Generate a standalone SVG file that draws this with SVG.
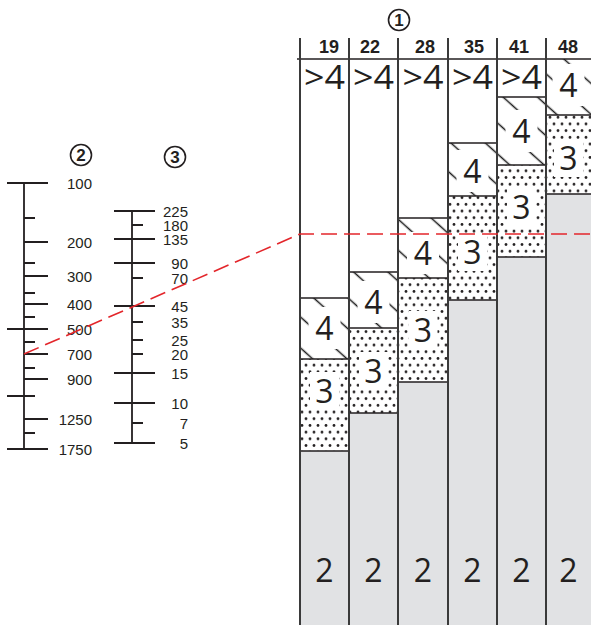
<svg xmlns="http://www.w3.org/2000/svg" width="591" height="625" viewBox="0 0 591 625">
<defs>
<style>
.ln{stroke:#231f20;stroke-width:1.5;fill:none}
.ax{stroke:#231f20;stroke-width:1.8;fill:none}
.col{stroke:#3a3a3a;stroke-width:2;fill:none}
.clr{fill:#fff;stroke:none}
.big{font-family:"Open Sans","DejaVu Sans",sans-serif;font-size:32px;fill:#231f20;text-anchor:middle}
.sc{font-family:"Liberation Sans",Arial,sans-serif;font-size:15px;fill:#231f20;text-anchor:end}
.hd{font-family:"Liberation Sans",Arial,sans-serif;font-size:18px;font-weight:bold;fill:#231f20;text-anchor:middle}
.cn{font-family:"Liberation Sans",Arial,sans-serif;font-size:17px;font-weight:bold;fill:#231f20;text-anchor:middle}
.circ{fill:none;stroke:#231f20;stroke-width:1.6}
.gray{fill:#e1e2e4}
.red{stroke:#e3262b;stroke-width:1.6;fill:none;stroke-dasharray:16 7}
</style>
<pattern id="hatch" patternUnits="userSpaceOnUse" width="23" height="23" patternTransform="rotate(42)">
<rect width="23" height="23" fill="#fff"/>
<line x1="0" y1="11.5" x2="23" y2="11.5" stroke="#1a1a1a" stroke-width="1.5"/>
</pattern>
<pattern id="dots" patternUnits="userSpaceOnUse" width="8" height="13.4">
<rect width="8" height="13.4" fill="#fff"/>
<circle cx="2" cy="3.35" r="1.4" fill="#231f20"/>
<circle cx="6" cy="10.05" r="1.4" fill="#231f20"/>
</pattern>
</defs>

<g id="scale2">
<circle class="circ" cx="81" cy="155" r="10.5"/>
<text class="cn" x="81" y="161">2</text>
<path class="ax" d="M24 183V449"/>
<path class="ax" d="M7 183H48M7 329H48M7 449H48M7 396H35M24 242H48M24 276H48M24 304H48M24 354H48M24 379H48M24 419H48M24 218H35M24 263H35M24 293H35M24 317H35M24 342H35M24 368H35M24 433H35"/>
<text class="sc" x="92" y="188.5">100</text>
<text class="sc" x="92" y="247.5">200</text>
<text class="sc" x="92" y="281.5">300</text>
<text class="sc" x="92" y="309.5">400</text>
<text class="sc" x="92" y="334.5">500</text>
<text class="sc" x="92" y="359.5">700</text>
<text class="sc" x="92" y="384.5">900</text>
<text class="sc" x="92" y="424.5">1250</text>
<text class="sc" x="92" y="454.5">1750</text>
</g>

<g id="scale3">
<circle class="circ" cx="175" cy="157" r="10.5"/>
<text class="cn" x="175" y="163">3</text>
<path class="ax" d="M132 211V443"/>
<path class="ax" d="M114 211H155M114 239H155M114 263H155M114 306H155M114 373H155M114 403H155M114 443H155M132 225H143M132 278H143M132 322H143M132 340H143M132 354H143M132 423H143"/>
<text class="sc" x="188" y="216.5">225</text>
<text class="sc" x="188" y="231">180</text>
<text class="sc" x="188" y="245">135</text>
<text class="sc" x="188" y="268.5">90</text>
<text class="sc" x="188" y="283.5">70</text>
<text class="sc" x="188" y="311.5">45</text>
<text class="sc" x="188" y="327.5">35</text>
<text class="sc" x="188" y="345.5">25</text>
<text class="sc" x="188" y="359.5">20</text>
<text class="sc" x="188" y="378.5">15</text>
<text class="sc" x="188" y="408.5">10</text>
<text class="sc" x="188" y="428.5">7</text>
<text class="sc" x="188" y="448.5">5</text>
</g>

<g id="col-19">
<rect x="300" y="59" width="49" height="239" fill="#fff"/>
<rect x="300" y="298" width="49" height="61" fill="url(#hatch)"/>
<rect x="300" y="359" width="49" height="92" fill="url(#dots)"/>
<rect class="gray" x="300" y="451" width="49" height="174"/>
<rect class="clr" x="308.5" y="307" width="32" height="42"/>
<rect class="clr" x="310" y="372" width="29" height="38"/>
<text class="big" x="324.5" y="88.5" textLength="41" lengthAdjust="spacingAndGlyphs">&gt;4</text>
<text class="big" x="324.5" y="339.5">4</text>
<text class="big" x="324.5" y="402.5">3</text>
<text class="big" x="324.5" y="582">2</text>
<path class="ln" d="M300 298H349M300 359H349M300 451H349"/>
</g>

<g id="col-22">
<rect x="349" y="59" width="49" height="213" fill="#fff"/>
<rect x="349" y="272" width="49" height="56" fill="url(#hatch)"/>
<rect x="349" y="328" width="49" height="85" fill="url(#dots)"/>
<rect class="gray" x="349" y="413" width="49" height="212"/>
<rect class="clr" x="357.5" y="281" width="32" height="42"/>
<rect class="clr" x="359" y="352" width="29" height="38"/>
<text class="big" x="373.5" y="88.5" textLength="41" lengthAdjust="spacingAndGlyphs">&gt;4</text>
<text class="big" x="373.5" y="313.5">4</text>
<text class="big" x="373.5" y="382.5">3</text>
<text class="big" x="373.5" y="582">2</text>
<path class="ln" d="M349 272H398M349 328H398M349 413H398"/>
</g>

<g id="col-28">
<rect x="398" y="59" width="50" height="159" fill="#fff"/>
<rect x="398" y="218" width="50" height="60" fill="url(#hatch)"/>
<rect x="398" y="278" width="50" height="104" fill="url(#dots)"/>
<rect class="gray" x="398" y="382" width="50" height="243"/>
<rect class="clr" x="407" y="232" width="32" height="42"/>
<rect class="clr" x="408.5" y="311" width="29" height="38"/>
<text class="big" x="423" y="88.5" textLength="41" lengthAdjust="spacingAndGlyphs">&gt;4</text>
<text class="big" x="423" y="264.5">4</text>
<text class="big" x="423" y="341.5">3</text>
<text class="big" x="423" y="582">2</text>
<path class="ln" d="M398 218H448M398 278H448M398 382H448"/>
</g>

<g id="col-35">
<rect x="448" y="59" width="49" height="84" fill="#fff"/>
<rect x="448" y="143" width="49" height="53" fill="url(#hatch)"/>
<rect x="448" y="196" width="49" height="104" fill="url(#dots)"/>
<rect class="gray" x="448" y="300" width="49" height="325"/>
<rect class="clr" x="456.5" y="150" width="32" height="42"/>
<rect class="clr" x="458" y="233" width="29" height="38"/>
<text class="big" x="472.5" y="88.5" textLength="41" lengthAdjust="spacingAndGlyphs">&gt;4</text>
<text class="big" x="472.5" y="182.5">4</text>
<text class="big" x="472.5" y="263.5">3</text>
<text class="big" x="472.5" y="582">2</text>
<path class="ln" d="M448 143H497M448 196H497M448 300H497"/>
</g>

<g id="col-41">
<rect x="497" y="59" width="49" height="38" fill="#fff"/>
<rect x="497" y="97" width="49" height="68" fill="url(#hatch)"/>
<rect x="497" y="165" width="49" height="92" fill="url(#dots)"/>
<rect class="gray" x="497" y="257" width="49" height="368"/>
<rect class="clr" x="505.5" y="110" width="32" height="42"/>
<rect class="clr" x="507" y="188" width="29" height="38"/>
<text class="big" x="521.5" y="88.5" textLength="41" lengthAdjust="spacingAndGlyphs">&gt;4</text>
<text class="big" x="521.5" y="142.5">4</text>
<text class="big" x="521.5" y="218.5">3</text>
<text class="big" x="521.5" y="582">2</text>
<path class="ln" d="M497 97H546M497 165H546M497 257H546"/>
</g>

<g id="col-48">
<rect x="546" y="59" width="49" height="56" fill="url(#hatch)"/>
<rect x="546" y="115" width="49" height="79" fill="url(#dots)"/>
<rect class="gray" x="546" y="194" width="49" height="431"/>
<rect class="clr" x="552.5" y="64" width="32" height="42"/>
<rect class="clr" x="554" y="139" width="29" height="38"/>
<text class="big" x="568.5" y="96.5">4</text>
<text class="big" x="568.5" y="169.5">3</text>
<text class="big" x="568.5" y="582">2</text>
<path class="ln" d="M546 115H595M546 194H595"/>
</g>

<g id="header">
<circle class="circ" cx="399" cy="20" r="10.5"/>
<text class="cn" x="399" y="26">1</text>
<path class="ln" d="M297 59H591"/>
<path class="col" d="M300 38V625M349 38V625M398 38V625M448 38V625M497 38V625M546 38V625"/>
<text class="hd" x="329" y="53">19</text>
<text class="hd" x="370" y="53">22</text>
<text class="hd" x="425" y="53">28</text>
<text class="hd" x="474" y="53">35</text>
<text class="hd" x="519" y="53">41</text>
<text class="hd" x="568" y="53">48</text>
</g>

<g id="connectors">
<polyline class="red" points="24,354 300,234 591,234"/>
</g>
</svg>
